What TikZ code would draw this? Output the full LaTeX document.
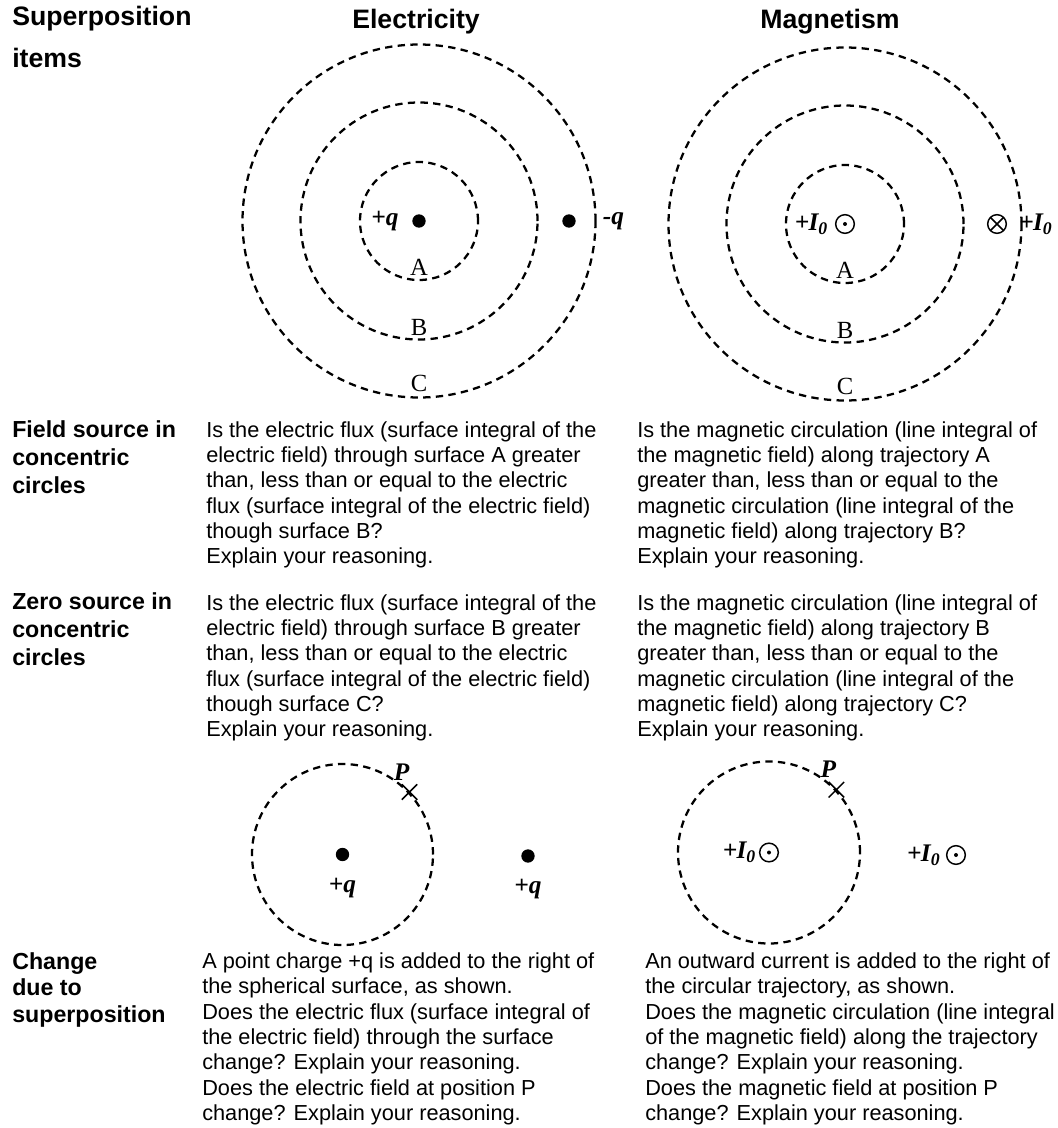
\documentclass[tikz,border=0pt]{standalone}
\usepackage{fontspec}
\setmainfont{Liberation Sans}
\newfontfamily\timesf{Liberation Serif}
\usetikzlibrary{positioning,shapes.misc}

\newcommand{\Izero}{+\kern-0.5pt I\textsubscript{0}}

\begin{document}
\begin{tikzpicture}[x=0.75pt, y=0.75pt,
                    head/.style={font=\fontsize{20}{31.5}\selectfont\bfseries, inner sep=0},
                    rowlabel/.style={font=\fontsize{17.4}{21}\selectfont\bfseries, align=left, inner sep=0, anchor=north west},
                    body/.style={font=\fontsize{16.3}{19}\selectfont, align=left, inner sep=0, anchor=north west},
                    ring/.style={circle, draw, line width=1.7pt, dash pattern=on 5.5pt off 4pt, inner sep=0, minimum size=#1},
                    dot/.style={circle, fill, inner sep=0, minimum size=10pt},
                    sym/.style={font=\timesf\bfseries\itshape\fontsize{19}{20}\selectfont, inner sep=0},
                    letter/.style={font=\timesf\fontsize{18.5}{20}\selectfont, inner sep=0},
                    outof/.style={circle, draw, line width=1.1pt, minimum size=14pt, inner sep=0,
                                  path picture={\fill (path picture bounding box.center) circle (1.5pt);}},
                    into/.style={circle, draw, line width=1.1pt, minimum size=14pt, inner sep=0,
                                 path picture={\draw[line width=1.1pt] (path picture bounding box.north west) -- (path picture bounding box.south east)
                                               (path picture bounding box.south west) -- (path picture bounding box.north east);}},
                    xmark/.style={cross out, draw, line width=1.1pt, minimum size=10.5pt, inner sep=0}
]
\useasboundingbox[fill=white] (0,0) rectangle (1057,-1128);

\node [head, anchor=north west, align=left] at (12,-6) (title) {Superposition\\items};
\node [head, anchor=base] at (416,-28) (elec) {Electricity};
\node [head, anchor=base] at (830,-28) (magn) {Magnetism};
%
% electricity, concentric surfaces
\node [ring=88.5pt] at (419,-221) (eA) {};
\node [ring=177.75pt] at (419,-221) (eB) {};
\node [ring=264.75pt] at (419,-221) (eC) {};
\node [letter, anchor=base] at ([yshift=4pt]eA.south) (eAl) {A};
\node [letter, anchor=base] at ([yshift=4pt]eB.south) (eBl) {B};
\node [letter, anchor=base] at ([yshift=5pt]eC.south) (eCl) {C};
\node [dot] at (eA.center) (qin) {};
\node [sym, left=10pt of qin] (qinl) {+q};
\node [dot] at (569,-221) (qout) {};
\node [sym, right=20pt of qout] (qoutl) {-q};
%
% magnetism, concentric trajectories
\node [ring=88.5pt] at (845,-224) (mA) {};
\node [ring=177.75pt] at (845,-224) (mB) {};
\node [ring=264.75pt] at (845,-224) (mC) {};
\node [letter, anchor=base] at ([yshift=4pt]mA.south) (mAl) {A};
\node [letter, anchor=base] at ([yshift=4pt]mB.south) (mBl) {B};
\node [letter, anchor=base] at ([yshift=5pt]mC.south) (mCl) {C};
\node [outof] at (mA.center) (iin) {};
\node [sym, left=5pt of iin] (iinl) {\Izero};
\node [into] at (997,-224) (iout) {};
\node [sym, right=9pt of iout] (ioutl) {\Izero};
%
% row texts
\node [rowlabel] at (12,-420.5) (row1) {Field source in\\concentric\\circles};
\node [body] at (206,-421.2) (row1e) {Is the electric flux (surface integral of the\\electric field) through surface A greater\\than, less than or equal to the electric\\flux (surface integral of the electric field)\\though surface B?\\Explain your reasoning.};
\node [body] at (637,-421.2) (row1m) {Is the magnetic circulation (line integral of\\the magnetic field) along trajectory A\\greater than, less than or equal to the\\magnetic circulation (line integral of the\\magnetic field) along trajectory B?\\Explain your reasoning.};
%
\node [rowlabel] at (12,-592.4) (row2) {Zero source in\\concentric\\circles};
\node [body] at (206,-594.2) (row2e) {Is the electric flux (surface integral of the\\electric field) through surface B greater\\than, less than or equal to the electric\\flux (surface integral of the electric field)\\though surface C?\\Explain your reasoning.};
\node [body] at (637,-594.2) (row2m) {Is the magnetic circulation (line integral of\\the magnetic field) along trajectory B\\greater than, less than or equal to the\\magnetic circulation (line integral of the\\magnetic field) along trajectory C?\\Explain your reasoning.};
%
% superposition figures
\node [ring=135.75pt] at (342.5,-854.5) (sE) {};
\node [dot] at (sE.center) (q1) {};
\node [sym, below=12pt of q1] (q1l) {+q};
\node [dot] at (528,-856) (q2) {};
\node [sym, below=12pt of q2] (q2l) {+q};
\node [xmark] at (sE.43) (pE) {};
\node [sym] at ([shift={(-8,20)}]pE) (pEl) {P};
%
\node [ring=136.5pt] at (769,-852.5) (sM) {};
\node [outof] at (sM.center) (i1) {};
\node [sym, left=2pt of i1] (i1l) {\Izero};
\node [outof] at (956,-855) (i2) {};
\node [sym, left=4pt of i2] (i2l) {\Izero};
\node [xmark] at (sM.43) (pM) {};
\node [sym] at ([shift={(-8,20)}]pM) (pMl) {P};
%
\node [rowlabel, font=\fontsize{17.4}{20}\selectfont\bfseries] at (12,-952) (row3) {Change\\due to\\superposition};
\node [body] at (202,-952.5) (row3e) {A point charge +q is added to the right of\\the spherical surface, as shown.\\Does the electric flux (surface integral of\\the electric field) through the surface\\change? Explain your reasoning.\\Does the electric field at position P\\change? Explain your reasoning.};
\node [body] at (645,-952.5) (row3m) {An outward current is added to the right of\\the circular trajectory, as shown.\\Does the magnetic circulation (line integral\\of the magnetic field) along the trajectory\\change? Explain your reasoning.\\Does the magnetic field at position P\\change? Explain your reasoning.};
\end{tikzpicture}
\end{document}
